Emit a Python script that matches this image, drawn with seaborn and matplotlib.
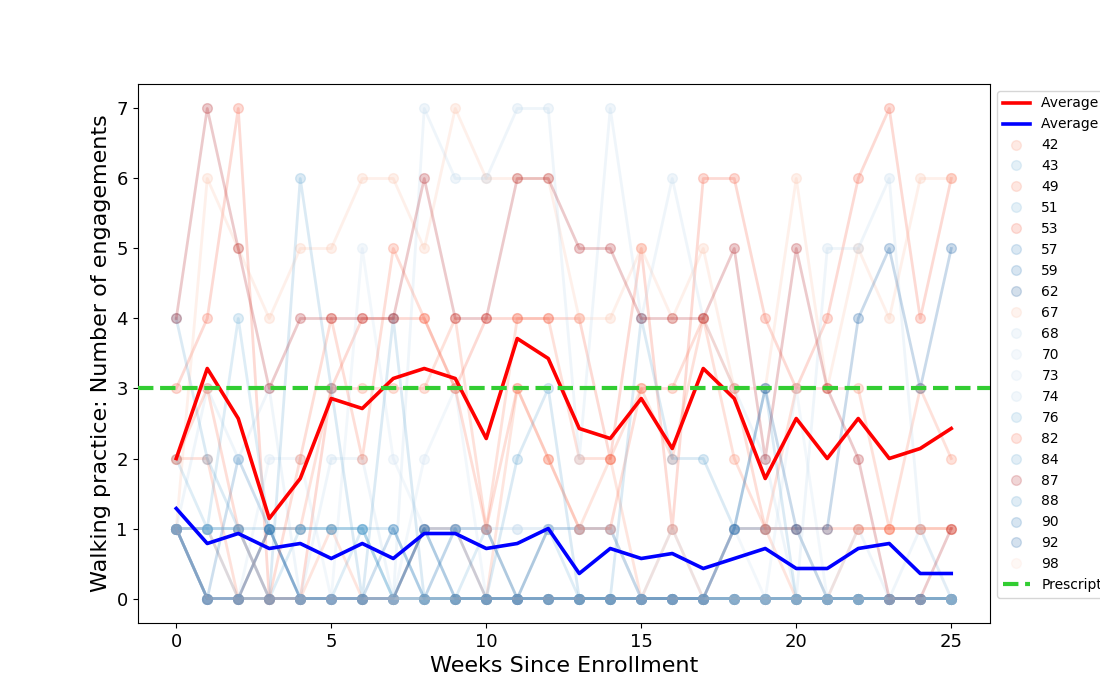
import matplotlib
matplotlib.use("Agg")
import matplotlib.pyplot as plt
import pandas as pd
import seaborn as sns
from matplotlib.lines import Line2D

# ---------------- data ----------------
weeks = list(range(26))

red_ids = ["42", "49", "53", "67", "82", "87", "98"]
blue_ids = ["43", "51", "57", "59", "62", "68", "70", "73", "74", "76", "84", "88", "90", "92"]
legend_order = ["42", "43", "49", "51", "53", "57", "59", "62", "67", "68", "70",
                "73", "74", "76", "82", "84", "87", "88", "90", "92", "98"]

# red group participants
p42 = [1, 1, 0, 0, 0, 1, 0, 0, 1, 1, 0, 3, 2, 1, 2, 0, 1, 0, 1, 1, 0, 0, 1, 1, 1, 1]
p49 = [2, 2, 0, 1, 1, 3, 3, 3, 3, 4, 1, 4, 4, 2, 2, 3, 2, 4, 2, 1, 3, 3, 3, 1, 3, 2]
p53 = [3, 4, 7, 0, 0, 3, 4, 4, 4, 3, 4, 4, 4, 4, 2, 5, 1, 6, 6, 4, 3, 4, 6, 7, 4, 6]
p67 = [1, 6, 5, 4, 5, 5, 6, 6, 5, 7, 6, 6, 6, 4, 4, 5, 4, 5, 3, 3, 6, 3, 5, 4, 6, 6]
p82 = [2, 3, 1, 0, 2, 4, 2, 5, 4, 3, 1, 3, 2, 1, 1, 3, 3, 4, 3, 1, 1, 1, 1, 1, 1, 1]
p87 = [4, 7, 5, 3, 4, 4, 4, 4, 6, 4, 4, 6, 6, 5, 5, 4, 4, 4, 5, 2, 5, 3, 2, 0, 0, 1]
p98 = [1, 0, 0, 0, 0, 0, 0, 0, 0, 0, 0, 0, 0, 0, 0, 0, 0, 0, 0, 0, 0, 0, 0, 0, 0, 0]

# blue group participants
p43 = [1, 1, 1, 0, 0, 0, 1, 0, 0, 0, 0, 0, 0, 0, 0, 0, 0, 0, 0, 0, 0, 0, 0, 0, 0, 0]
p51 = [1, 1, 0, 0, 1, 1, 1, 0, 1, 0, 1, 0, 1, 0, 0, 0, 0, 0, 0, 0, 0, 0, 0, 0, 0, 0]
p57 = [1, 0, 0, 1, 0, 0, 0, 0, 0, 0, 0, 0, 0, 0, 0, 0, 0, 0, 0, 0, 0, 0, 0, 0, 0, 0]
p59 = [1, 0, 2, 1, 0, 0, 0, 0, 0, 0, 0, 0, 0, 0, 0, 0, 0, 0, 0, 0, 0, 0, 0, 0, 0, 0]
p62 = [1, 0, 0, 1, 0, 0, 0, 0, 1, 1, 1, 0, 1, 1, 1, 0, 0, 0, 1, 1, 1, 0, 0, 0, 0, 0]
p68 = [1, 1, 1, 0, 0, 2, 2, 0, 0, 1, 1, 1, 1, 1, 1, 0, 1, 0, 1, 1, 1, 0, 1, 0, 1, 0]
p70 = [1, 1, 1, 0, 0, 0, 5, 2, 1, 1, 1, 1, 1, 1, 1, 0, 0, 0, 1, 0, 0, 0, 0, 0, 0, 0]
p73 = [1, 0, 0, 2, 2, 0, 0, 0, 2, 3, 0, 0, 0, 0, 0, 0, 0, 0, 0, 0, 3, 0, 0, 0, 0, 0]
p74 = [1, 3, 2, 3, 0, 0, 0, 0, 7, 6, 6, 7, 7, 2, 7, 4, 6, 4, 3, 2, 0, 5, 5, 6, 1, 0]
p76 = [2, 1, 4, 1, 1, 1, 1, 0, 0, 0, 0, 0, 0, 0, 0, 0, 0, 0, 0, 0, 0, 0, 0, 0, 0, 0]
p84 = [4, 2, 1, 0, 6, 3, 0, 4, 0, 0, 0, 2, 3, 0, 0, 4, 2, 2, 1, 3, 0, 0, 0, 0, 0, 0]
p88 = [1, 1, 1, 1, 1, 1, 1, 1, 0, 0, 0, 0, 0, 0, 0, 0, 0, 0, 0, 0, 0, 0, 0, 0, 0, 0]
p90 = [1, 0, 0, 0, 0, 0, 0, 1, 0, 1, 0, 0, 0, 0, 0, 0, 0, 0, 0, 0, 0, 0, 0, 0, 0, 0]
p92 = [1, 0, 0, 0, 0, 0, 0, 0, 1, 0, 0, 0, 0, 0, 0, 0, 0, 0, 1, 3, 1, 1, 4, 5, 3, 5]

prescribed = 3

series = {
    "42": p42, "43": p43, "49": p49, "51": p51, "53": p53, "57": p57, "59": p59,
    "62": p62, "67": p67, "68": p68, "70": p70, "73": p73, "74": p74, "76": p76,
    "82": p82, "84": p84, "87": p87, "88": p88, "90": p90, "92": p92, "98": p98,
}

# ---------------- style ----------------
shade = {
    "42": 0.40, "49": 0.45, "53": 0.55, "67": 0.25, "82": 0.50, "87": 0.85, "98": 0.15,
    "43": 0.50, "51": 0.50, "57": 0.70, "59": 0.75, "62": 0.90, "68": 0.30, "70": 0.25,
    "73": 0.25, "74": 0.30, "76": 0.50, "84": 0.55, "88": 0.60, "90": 0.75, "92": 0.85,
}
reds = sns.color_palette("Reds", as_cmap=True)
blues = sns.color_palette("Blues", as_cmap=True)
ALPHA = 0.22

rows = []
for pid, vals in series.items():
    grp = "red" if pid in red_ids else "blue"
    for w, v in zip(weeks, vals):
        rows.append({"week": w, "count": v, "pid": pid, "group": grp})
df = pd.DataFrame(rows)

colors = {pid: (reds(shade[pid]) if pid in red_ids else blues(shade[pid])) for pid in series}

plt.rcParams["font.family"] = ["DejaVu Sans"]
fig, ax = plt.subplots(figsize=(11, 7), dpi=100)
fig.subplots_adjust(left=0.125, right=0.9, top=0.88, bottom=0.11)

for pid in legend_order:
    sub = df[df["pid"] == pid]
    c = colors[pid]
    sns.lineplot(data=sub, x="week", y="count", ax=ax, color=c, alpha=ALPHA,
                 linewidth=2, marker="o", markersize=7, markeredgecolor=c,
                 markeredgewidth=1, legend=False, zorder=2)

sns.lineplot(data=df[df["group"] == "red"], x="week", y="count", estimator="mean",
             errorbar=None, ax=ax, color="red", linewidth=2.6, zorder=4, legend=False)
sns.lineplot(data=df[df["group"] == "blue"], x="week", y="count", estimator="mean",
             errorbar=None, ax=ax, color="blue", linewidth=2.6, zorder=4, legend=False)
ax.axhline(prescribed, color="limegreen", linestyle="--", linewidth=3, zorder=5)

ax.set_xticks([0, 5, 10, 15, 20, 25])
ax.set_yticks(range(0, 8))
ax.tick_params(labelsize=13)
ax.set_xlabel("Weeks Since Enrollment", fontsize=16)
ax.set_ylabel("Walking practice: Number of engagements", fontsize=16)

handles = [Line2D([], [], color="red", linewidth=2.6),
           Line2D([], [], color="blue", linewidth=2.6)]
labels = ["Average (Group A)", "Average (Group B)"]
for pid in legend_order:
    handles.append(Line2D([], [], marker="o", linestyle="", color=colors[pid],
                          markeredgecolor=colors[pid], alpha=ALPHA * 0.8, markersize=7))
    labels.append(pid)
handles.append(Line2D([], [], color="limegreen", linestyle="--", linewidth=3))
labels.append("Prescription")
ax.legend(handles, labels, loc="upper left", bbox_to_anchor=(1.0, 1.0), fontsize=10)

fig.savefig("out.png", dpi=100)
